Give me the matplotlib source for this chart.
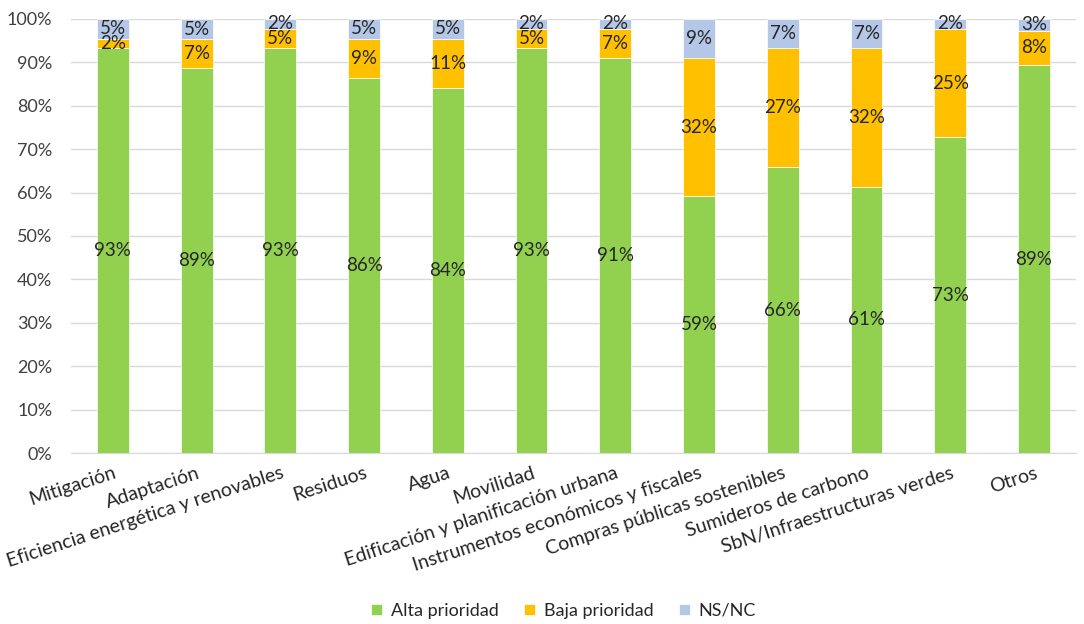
import numpy as np
import matplotlib.pyplot as plt

plt.rcParams['font.family'] = ['Lato', 'DejaVu Sans']

# categorías y valores (%)
categorias = ['Mitigación', 'Adaptación', 'Eficiencia energética y renovables', 'Residuos',
              'Agua', 'Movilidad', 'Edificación y planificación urbana',
              'Instrumentos económicos y fiscales', 'Compras públicas sostenibles',
              'Sumideros de carbono', 'SbN/Infraestructuras verdes', 'Otros']
alta = [93.2, 88.6, 93.2, 86.4, 84.1, 93.2, 90.9, 59.1, 65.9, 61.4, 72.7, 89.4]
baja = [2.3, 6.8, 4.55, 9.1, 11.4, 4.55, 6.8, 31.8, 27.3, 31.8, 25.0, 7.9]
nsnc = [4.55, 4.55, 2.3, 4.55, 4.55, 2.3, 2.3, 9.1, 6.8, 6.8, 2.3, 2.7]
series = ['Alta prioridad', 'Baja prioridad', 'NS/NC']
colores = ['#92D050', '#FFC000', '#B4C7E7']

fig = plt.figure(figsize=(10.84, 6.24), dpi=100)
ax = fig.add_axes([0.0655, 0.274, 0.927, 0.6956])

x = np.arange(len(categorias))
base = np.zeros(len(categorias))
for vals, nombre, col in zip([alta, baja, nsnc], series, colores):
    vals = np.array(vals)
    ax.bar(x, vals, 0.38, bottom=base, color=col, label=nombre, zorder=2,
           edgecolor='white', linewidth=0.5)
    for xi, b, v in zip(x, base, vals):
        ax.text(xi, b + v / 2, f'{v:.0f}%', ha='center', va='center',
                fontsize=13.5, color='#262626', zorder=3)
    base += vals

ax.set_xlim(-0.5, len(categorias) - 0.5)
ax.set_ylim(0, 100)
ax.set_yticks(np.arange(0, 101, 10))
ax.set_yticklabels([f'{t}%' for t in range(0, 101, 10)], fontsize=13, color='#404040')
ax.yaxis.grid(True, color='#D9D9D9', linewidth=1, zorder=0)
ax.set_axisbelow(True)
for s in ['top', 'right', 'left']:
    ax.spines[s].set_visible(False)
ax.spines['bottom'].set_color('#D9D9D9')
ax.tick_params(axis='both', length=0)
ax.tick_params(axis='y', pad=13.5)

ax.set_xticks(x)
ax.set_xticklabels(categorias, rotation=18, ha='right', va='top',
                   rotation_mode='anchor', fontsize=14, color='#262626')
ax.tick_params(axis='x', pad=8)

fig.legend(loc='lower center', bbox_to_anchor=(0.52, -0.018), ncol=3, frameon=False,
           fontsize=13, handlelength=0.6, handleheight=0.6, columnspacing=1.4,
           handletextpad=0.5, labelcolor='#262626')

fig.savefig('out.png', dpi=100)
